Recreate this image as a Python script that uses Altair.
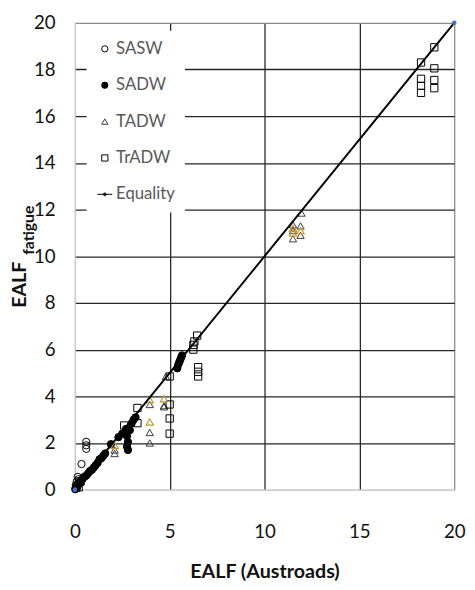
import altair as alt
import pandas as pd

# ---------------- data ----------------
sasw_x = [0.6, 0.6, 0.6, 0.35, 0.15, 0.1, 0.05, 0.2]
sasw_y = [2.05, 1.9, 1.75, 1.1, 0.55, 0.35, 0.2, 0.45]

sadw_x = [0.02, 0.05, 0.08, 0.1, 0.12, 0.15, 0.2, 0.25, 0.3, 0.35, 0.4, 0.5, 0.6, 0.7,
          0.8, 0.9, 1.0, 1.1, 1.2, 1.3, 1.4, 1.5, 1.6, 1.9, 2.3, 2.5, 2.7, 2.75, 2.8,
          2.75, 2.8, 2.9, 3.0, 3.1, 3.2, 5.4, 5.45, 5.5, 5.55, 5.6, 5.65]
sadw_y = [0.02, 0.08, 0.12, 0.05, 0.2, 0.15, 0.25, 0.3, 0.3, 0.4, 0.45, 0.55, 0.6, 0.7,
          0.8, 0.85, 0.95, 1.05, 1.15, 1.3, 1.35, 1.45, 1.55, 1.95, 2.25, 2.4, 2.6, 2.3, 2.05,
          1.85, 1.7, 2.55, 2.85, 3.0, 3.1, 5.2, 5.35, 5.45, 5.55, 5.65, 5.75]

tadw_x = [2.1, 2.1, 3.95, 3.95, 3.95, 4.7, 4.7, 4.8, 11.5, 11.9, 11.5, 11.9, 11.5, 11.95]
tadw_y = [1.7, 1.55, 2.45, 2.0, 3.65, 3.6, 3.55, 4.85, 10.75, 10.9, 11.1, 11.3, 11.35, 11.85]

tadw_gold_x = [2.1, 3.95, 3.95, 4.7, 11.5, 11.9, 11.5]
tadw_gold_y = [1.9, 2.9, 3.85, 3.9, 11.0, 11.1, 11.2]

tradw_x = [0.2, 0.3, 2.6, 3.3, 3.3, 5.0, 5.0, 5.0, 5.0, 6.25, 6.25, 6.3, 6.45, 6.5, 6.5,
           6.5, 18.25, 18.95, 18.25, 18.25, 18.25, 18.95, 18.95, 18.95]
tradw_y = [0.1, 0.35, 2.75, 3.5, 2.85, 4.85, 3.65, 3.05, 2.4, 6.0, 6.2, 6.35, 6.6, 5.25, 5.05,
           4.85, 18.3, 18.95, 17.6, 17.3, 17.0, 18.05, 17.55, 17.2]

equality_x = [0, 20]
equality_y = [0, 20]

series_names = ["SASW", "SADW", "TADW", "TrADW", "Equality"]
x_ticks = [0, 5, 10, 15, 20]
y_ticks = [0, 2, 4, 6, 8, 10, 12, 14, 16, 18, 20]

# ---------------- tables ----------------
rows = []
for xs, ys, s, tone in [(sasw_x, sasw_y, "SASW", "base"),
                        (sadw_x, sadw_y, "SADW", "base"),
                        (tadw_x, tadw_y, "TADW", "base"),
                        (tadw_gold_x, tadw_gold_y, "TADW", "gold"),
                        (tradw_x, tradw_y, "TrADW", "base")]:
    for a, b in zip(xs, ys):
        rows.append({"x": a, "y": b, "series": s, "tone": tone})
pts = pd.DataFrame(rows)
eq = pd.DataFrame({"x": equality_x, "y": equality_y})

FONT = "Lato"
GOLD = "#C39B2E"
eq_path = ("M-2.4,0L2.4,0M0.45,0A0.45,0.45,0,1,1,-0.45,0"
           "A0.45,0.45,0,1,1,0.45,0Z")

grid_color = {
    "condition": [
        {"test": "datum.value == 0", "value": "#c8c8c8"},
        {"test": "datum.value == 20", "value": "#8c8c8c"},
    ],
    "value": "#262626",
}

xs = alt.X("x:Q", scale=alt.Scale(domain=[0, 20], nice=False),
           axis=alt.Axis(values=x_ticks, title="EALF (Austroads)", grid=True,
                         gridColor=grid_color, gridWidth=1.3, ticks=False,
                         domainColor="#c8c8c8", labelFontSize=19, labelPadding=34,
                         labelFlush=False,
                         labelFont=FONT, labelColor="#111", titleFont=FONT,
                         titleFontSize=20, titleFontWeight="bold", titleColor="#111",
                         titlePadding=20))
ys = alt.Y("y:Q", scale=alt.Scale(domain=[0, 20], nice=False),
           axis=alt.Axis(values=y_ticks, title=None, grid=True,
                         gridColor=grid_color, gridWidth=1.3, ticks=False,
                         labelFlush=False,
                         domainColor="#c8c8c8", labelFontSize=19, labelPadding=20,
                         labelFont=FONT, labelColor="#111"))

legend = alt.Legend(title=None, orient="none", legendX=12, legendY=8,
                    fillColor="white", padding=10, rowPadding=19,
                    labelFontSize=17, labelFont=FONT, labelColor="#595959",
                    symbolSize=40, symbolStrokeWidth=1, labelOffset=3)

base_pts = alt.Chart(pts).transform_filter(alt.datum.tone == "base").mark_point(
    strokeWidth=1, opacity=1, fillOpacity=1, size=55
).encode(
    x=xs, y=ys,
    shape=alt.Shape("series:N", scale=alt.Scale(
        domain=series_names,
        range=["circle", "circle", "triangle-up", "square", eq_path]), legend=legend),
    fill=alt.Fill("series:N", scale=alt.Scale(
        domain=series_names,
        range=["transparent", "black", "transparent", "transparent", "#4472C4"]), legend=legend),
    stroke=alt.Stroke("series:N", scale=alt.Scale(
        domain=series_names,
        range=["black", "black", "#3a3a3a", "black", "black"]), legend=legend),
)

gold_pts = alt.Chart(pts).transform_filter(alt.datum.tone == "gold").mark_point(
    shape="triangle-up", filled=False, stroke=GOLD, strokeWidth=1.2, size=55, opacity=1
).encode(x="x:Q", y="y:Q")

eq_line = alt.Chart(eq).mark_line(color="black", strokeWidth=2).encode(x="x:Q", y="y:Q")
eq_pts = alt.Chart(eq).mark_point(filled=True, color="#4472C4", size=22, opacity=1).encode(
    x="x:Q", y="y:Q")

t1 = alt.Chart(pd.DataFrame({"t": ["EALF"]})).mark_text(
    angle=270, align="left", baseline="middle", font=FONT, fontSize=20,
    fontWeight="bold", color="#111"
).encode(x=alt.value(-56), y=alt.value(290), text="t:N")
t2 = alt.Chart(pd.DataFrame({"t": ["fatigue"]})).mark_text(
    angle=270, align="left", baseline="middle", font=FONT, fontSize=16,
    fontWeight="bold", color="#111"
).encode(x=alt.value(-47), y=alt.value(236), text="t:N")

chart = alt.layer(base_pts, gold_pts, eq_line, eq_pts, t1, t2).properties(
    width=386, height=475,
    autosize=alt.AutoSizeParams(type="none"),
    padding={"left": 68, "top": 10, "right": 13, "bottom": 97},
).configure_view(stroke=None)

chart.save("out.html", embed_options={"renderer": "svg", "actions": False})
